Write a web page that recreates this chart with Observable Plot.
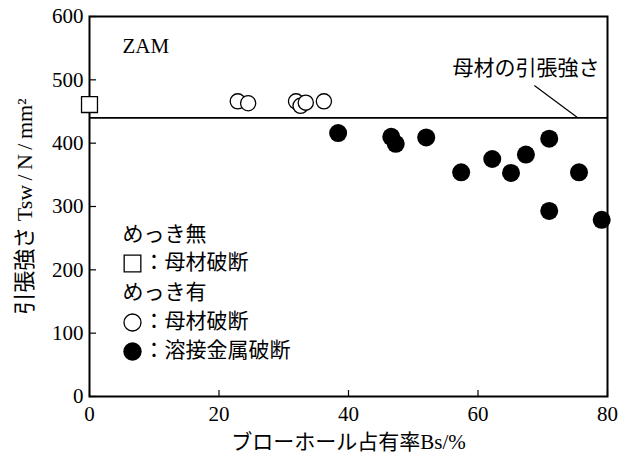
<!DOCTYPE html>
<html><head><meta charset="utf-8">
<script src="https://cdn.jsdelivr.net/npm/d3@7"></script>
<script src="https://cdn.jsdelivr.net/npm/@observablehq/plot@0.6"></script>
<style>html,body{margin:0;padding:0;background:#fff} svg{display:block}</style>
</head><body><div id="chart"></div>
<script>
// ---- data ----
const xTicks = [0, 20, 40, 60, 80];
const yTicks = [0, 100, 200, 300, 400, 500, 600];
// めっき無: 母材破断
const squareX = [0];
const squareY = [461];
// めっき有: 母材破断
const openX = [22.9, 24.5, 31.9, 32.6, 33.4, 36.2];
const openY = [466, 463, 466, 459, 464, 466];
// めっき有: 溶接金属破断
const filledX = [38.4, 46.6, 47.3, 52.0, 57.4, 62.2, 65.1, 67.4, 71.0, 71.0, 75.6, 79.1];
const filledY = [416, 410, 399, 409, 354, 375, 353, 382, 407, 293, 354, 279];
const baseStrength = [440];
const xLabel = "ブローホール占有率Bs/%";
const yLabel = "引張強さ Tsw\u2009/\u2009N\u2009/\u2009mm²";
const materialLabel = "ZAM";
const baseLabel = "母材の引張強さ";
const legendHeads = ["めっき無", "めっき有"];
const legendItems = ["：母材破断", "：母材破断", "：溶接金属破断"];

const squares = squareX.map((x, i) => ({x, y: squareY[i]}));
const opens = openX.map((x, i) => ({x, y: openY[i]}));
const filled = filledX.map((x, i) => ({x, y: filledY[i]}));

const font = '"Liberation Serif", "Noto Sans CJK JP", serif';
const fs = 21;

const plot = Plot.plot({
  width: 631, height: 461,
  marginLeft: 89, marginRight: 24, marginTop: 16, marginBottom: 65,
  style: {fontFamily: font, fontSize: fs + "px", color: "black", background: "white", overflow: "visible"},
  x: {domain: [0, 80]},
  y: {domain: [0, 600]},
  marks: [
    Plot.frame({stroke: "black", strokeWidth: 2}),
    Plot.axisX({ticks: xTicks, tickSize: -6, tickPadding: 16, label: null, stroke: "black", strokeWidth: 1.2, fontSize: fs}),
    Plot.axisY({ticks: yTicks, tickSize: -7, tickPadding: 13, label: null, stroke: "black", strokeWidth: 1.2, fontSize: fs}),
    Plot.ruleY(baseStrength, {stroke: "black", strokeWidth: 1.6}),
    Plot.link([0], {x1: 68.7, y1: 491, x2: 75.3, y2: 441, stroke: "black", strokeWidth: 1.2}),
    Plot.text([baseLabel], {x: 67.4, y: 515, dy: -2, text: d => d, fontSize: fs, fill: "black"}),
    Plot.text([materialLabel], {x: 5.1, y: 553, text: d => d, textAnchor: "start", fontSize: fs, fill: "black"}),
    Plot.dot(squares, {x: "x", y: "y", symbol: "square", r: 9, stroke: "black", strokeWidth: 1.3, fill: "white"}),
    Plot.dot(opens, {x: "x", y: "y", r: 7.6, stroke: "black", strokeWidth: 1.3, fill: "white"}),
    Plot.dot(filled, {x: "x", y: "y", r: 9, fill: "black", stroke: "none"}),
    // legend
    Plot.text([legendHeads[0]], {frameAnchor: "top-left", dx: 33, dy: 218, text: d => d, textAnchor: "start", lineAnchor: "middle", fontSize: fs, fill: "black"}),
    Plot.dot([0], {frameAnchor: "top-left", dx: 43, dy: 247, symbol: "square", r: 9.4, stroke: "black", strokeWidth: 1.3, fill: "white"}),
    Plot.text([legendItems[0]], {frameAnchor: "top-left", dx: 54, dy: 246, text: d => d, textAnchor: "start", lineAnchor: "middle", fontSize: fs, fill: "black"}),
    Plot.text([legendHeads[1]], {frameAnchor: "top-left", dx: 33, dy: 276, text: d => d, textAnchor: "start", lineAnchor: "middle", fontSize: fs, fill: "black"}),
    Plot.dot([0], {frameAnchor: "top-left", dx: 43, dy: 306, r: 8.5, stroke: "black", strokeWidth: 1.3, fill: "white"}),
    Plot.text([legendItems[1]], {frameAnchor: "top-left", dx: 54, dy: 305, text: d => d, textAnchor: "start", lineAnchor: "middle", fontSize: fs, fill: "black"}),
    Plot.dot([0], {frameAnchor: "top-left", dx: 43, dy: 335, r: 9.2, fill: "black", stroke: "none"}),
    Plot.text([legendItems[2]], {frameAnchor: "top-left", dx: 54, dy: 334, text: d => d, textAnchor: "start", lineAnchor: "middle", fontSize: fs, fill: "black"}),
    // axis titles
    Plot.text([xLabel], {frameAnchor: "bottom", dy: 46, text: d => d, textAnchor: "middle", lineAnchor: "middle", fontSize: fs, fill: "black"}),
    Plot.text([yLabel], {frameAnchor: "left", rotate: -90, dx: -65, dy: 0, text: d => d, textAnchor: "middle", lineAnchor: "middle", fontSize: 22, fill: "black"})
  ]
});
document.getElementById("chart").appendChild(plot);
</script>
</body></html>
